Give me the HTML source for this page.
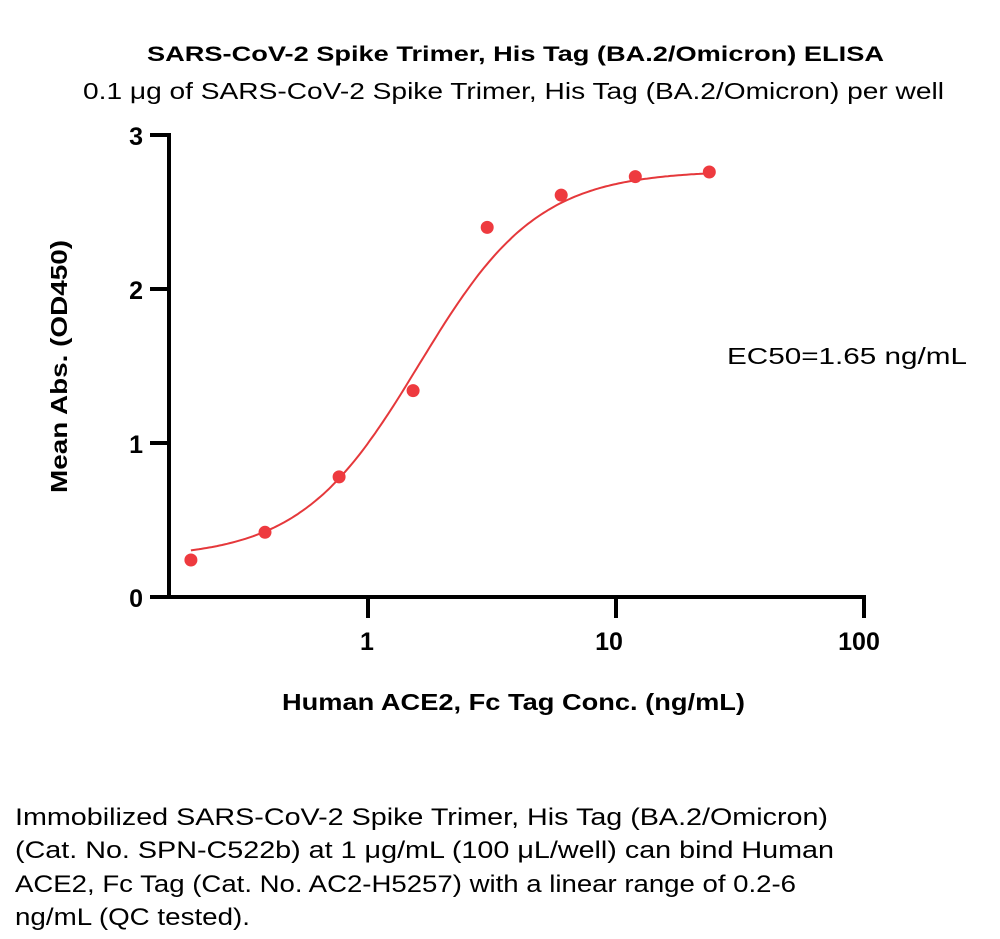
<!DOCTYPE html>
<html><head><meta charset="utf-8"><style>
html,body{margin:0;padding:0;background:#fff;}
svg{display:block;}
text{font-family:"Liberation Sans",sans-serif;fill:#000;}
.b{font-weight:bold;}
</style></head><body>
<svg id="s" width="1000" height="939" viewBox="0 0 1000 939" xmlns="http://www.w3.org/2000/svg">
<text class="b" x="147" y="61" font-size="21" textLength="737" lengthAdjust="spacingAndGlyphs">SARS-CoV-2 Spike Trimer, His Tag (BA.2/Omicron) ELISA</text>
<text x="83" y="99" font-size="23" textLength="861" lengthAdjust="spacingAndGlyphs">0.1 μg of SARS-CoV-2 Spike Trimer, His Tag (BA.2/Omicron) per well</text>
<text class="b" transform="translate(67,493) rotate(-90)" x="0" y="0" font-size="23" textLength="253" lengthAdjust="spacingAndGlyphs">Mean Abs. (OD450)</text>
<g stroke="#000" stroke-width="4" fill="none">
<line x1="169" y1="133" x2="169" y2="599"/>
<line x1="150" y1="597" x2="866" y2="597"/>
<line x1="150" y1="135" x2="169" y2="135"/>
<line x1="150" y1="289" x2="169" y2="289"/>
<line x1="150" y1="443" x2="169" y2="443"/>
<line x1="368" y1="597" x2="368" y2="618"/>
<line x1="616" y1="597" x2="616" y2="618"/>
<line x1="864" y1="597" x2="864" y2="618"/>
</g>
<g font-size="25" text-anchor="end">
<text class="b" x="143" y="145">3</text>
<text class="b" x="143" y="299">2</text>
<text class="b" x="143" y="453">1</text>
<text class="b" x="143" y="607">0</text>
</g>
<g font-size="25" text-anchor="middle">
<text class="b" x="367" y="650">1</text>
<text class="b" x="609" y="650">10</text>
<text class="b" x="859" y="650">100</text>
</g>
<text class="b" x="282" y="710" font-size="23" textLength="463" lengthAdjust="spacingAndGlyphs">Human ACE2, Fc Tag Conc. (ng/mL)</text>
<text x="727" y="364" font-size="23" textLength="240" lengthAdjust="spacingAndGlyphs">EC50=1.65 ng/mL</text>
<path id="curve" fill="none" stroke="#e5383b" stroke-width="2"/>
<g id="pts" fill="#ee3a3f"></g>
<g font-size="24">
<text x="15" y="825" textLength="813" lengthAdjust="spacingAndGlyphs">Immobilized SARS-CoV-2 Spike Trimer, His Tag (BA.2/Omicron)</text>
<text x="15" y="858" textLength="819" lengthAdjust="spacingAndGlyphs">(Cat. No. SPN-C522b) at 1 μg/mL (100 μL/well) can bind Human</text>
<text x="15" y="892" textLength="781" lengthAdjust="spacingAndGlyphs">ACE2, Fc Tag (Cat. No. AC2-H5257) with a linear range of 0.2-6</text>
<text x="15" y="925" textLength="235" lengthAdjust="spacingAndGlyphs">ng/mL (QC tested).</text>
</g>
</svg>
<script>
var X=function(c){return 365.6+246*Math.log10(c);};
var Y=function(v){return 597-154*v;};
var f=function(c){return 0.25+2.52/(1+Math.pow(1.65/c,1.8));};
var d="";
for(var i=0;i<=200;i++){var lc=Math.log10(0.195)+i/200*(Math.log10(25)-Math.log10(0.195));var c=Math.pow(10,lc);d+=(i?"L":"M")+X(c).toFixed(1)+","+Y(f(c)).toFixed(1);}
document.getElementById("curve").setAttribute("d",d);
var vals=[0.24,0.42,0.78,1.34,2.40,2.61,2.73,2.76];
var g=document.getElementById("pts"),h="";
for(var k=0;k<8;k++){var c=0.195*Math.pow(2,k);h+='<circle cx="'+X(c).toFixed(1)+'" cy="'+Y(vals[k]).toFixed(1)+'" r="6.5"/>';}
g.innerHTML=h;
</script>
</body></html>
